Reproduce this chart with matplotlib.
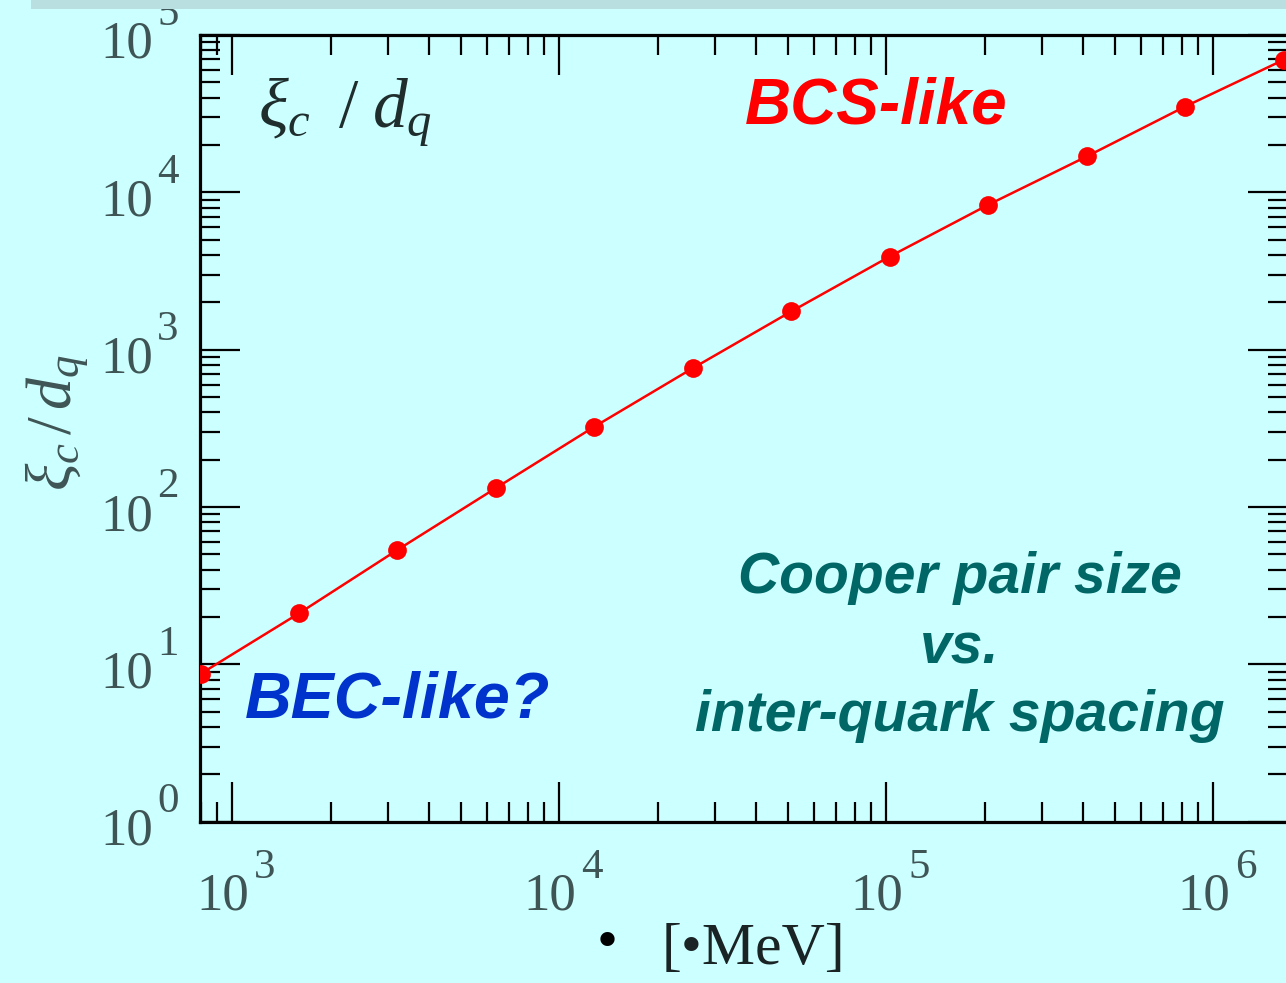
import matplotlib
matplotlib.use("Agg")
import matplotlib.pyplot as plt
from matplotlib.patches import Rectangle
from matplotlib.ticker import LogLocator, NullFormatter
from matplotlib.transforms import blended_transform_factory, offset_copy

# Chemical potential [MeV] (doubling steps) and Cooper-pair size over quark spacing
mu_mev = [800, 1600, 3200, 6400, 12800, 25600, 51200, 102400, 204800, 409600, 819200, 1638400]
xi_over_d = [8.7, 21.1, 53.4, 132, 324, 763, 1750, 3910, 8330, 16900, 35100, 69500]

x_decades = [3, 4, 5, 6]
y_decades = [0, 1, 2, 3, 4, 5]

plt.rcParams["mathtext.fontset"] = "custom"
plt.rcParams["mathtext.rm"] = "Liberation Serif"
plt.rcParams["mathtext.it"] = "Liberation Serif:italic"

W, H = 1286, 983
BG = "#ccffff"
LABEL_C = "#3f5555"

fig = plt.figure(figsize=(W / 100, H / 100), dpi=100, facecolor=BG)
ax = fig.add_axes([200 / W, 1 - 821.7 / H, (1288 - 200) / W, (821.7 - 35) / H])
ax.set_facecolor(BG)

ax.plot(mu_mev, xi_over_d, color="#ff0000", lw=1.8, marker="o", ms=13.5,
        markeredgewidth=0, zorder=3)

ax.set_xscale("log")
ax.set_yscale("log")
ax.set_xlim(797, 1.69e6)
ax.set_ylim(1, 1e5)

ax.xaxis.set_minor_locator(LogLocator(base=10, subs=range(2, 10), numticks=20))
ax.yaxis.set_minor_locator(LogLocator(base=10, subs=range(2, 10), numticks=20))
ax.xaxis.set_minor_formatter(NullFormatter())
ax.yaxis.set_minor_formatter(NullFormatter())
ax.tick_params(which="both", direction="in", top=True, right=True,
               labelbottom=False, labelleft=False, color="black")
ax.tick_params(which="major", length=29, width=1.6)
ax.tick_params(which="minor", length=14.5, width=1.6)
for sp in ax.spines.values():
    sp.set_linewidth(2.3)

# Hand-set decade labels in a large serif face with raised exponents
ty = blended_transform_factory(fig.transFigure, ax.transData)
for k in y_decades:
    ax.text(153 / W, 10 ** k, "10", transform=offset_copy(ty, fig=fig, y=-10, units="dots"),
            ha="right", va="center", fontsize=38, family="Liberation Serif",
            color=LABEL_C, clip_on=False)
    ax.text(157 / W, 10 ** k, str(k), transform=offset_copy(ty, fig=fig, y=20, units="dots"),
            ha="left", va="center", fontsize=31, family="Liberation Serif",
            color=LABEL_C, clip_on=False)

tx = blended_transform_factory(ax.transData, fig.transFigure)
for k in x_decades:
    ax.text(10 ** k, 1 - 897 / H, "10", transform=offset_copy(tx, fig=fig, x=17, units="dots"),
            ha="right", va="center", fontsize=38, family="Liberation Serif",
            color=LABEL_C, clip_on=False)
    ax.text(10 ** k, 1 - 868 / H, str(k), transform=offset_copy(tx, fig=fig, x=22, units="dots"),
            ha="left", va="center", fontsize=31, family="Liberation Serif",
            color=LABEL_C, clip_on=False)

# Axis titles
fig.text(57 / W, 1 - 422 / H, r"$\xi_c\,/\,d_q$", rotation=90, fontsize=46,
         ha="center", va="center", color=LABEL_C)
fig.text(607 / W, 1 - 945 / H, "\u2022", fontsize=43, family="Liberation Serif",
         ha="center", va="center", color="black")
fig.text(662 / W, 1 - 950 / H, "[\u2022MeV]", fontsize=43, family="Liberation Serif",
         ha="left", va="center", color="#1a2424")

# In-plot annotations
ax.text(258 / W, 1 - 112 / H, r"$\xi_c\;\;/\;d_q$", transform=fig.transFigure,
        fontsize=50, ha="left", va="center", color="#1f2d2d")
ax.text(876 / W, 1 - 107 / H, "BCS-like", transform=fig.transFigure,
        fontsize=46, family="Liberation Sans", weight="bold", style="italic",
        color="#ff0000", ha="center", va="center")
ax.text(398 / W, 1 - 700 / H, "BEC-like?", transform=fig.transFigure,
        fontsize=46.5, family="Liberation Sans", weight="bold", style="italic",
        color="#0033cc", ha="center", va="center")
for line, yy in [("Cooper pair size", 578), ("vs.", 648), ("inter-quark spacing", 716)]:
    ax.text(960 / W, 1 - yy / H, line, transform=fig.transFigure,
            fontsize=41, family="Liberation Sans", weight="bold", style="italic",
            color="#006666", ha="center", va="center")

# Header strip along the top edge
fig.add_artist(Rectangle((31 / W, 1 - 9 / H), 1, 9 / H, transform=fig.transFigure,
                         facecolor="#b9dfe1", edgecolor="none", zorder=10))

fig.savefig("out.png", dpi=100, facecolor=BG)
